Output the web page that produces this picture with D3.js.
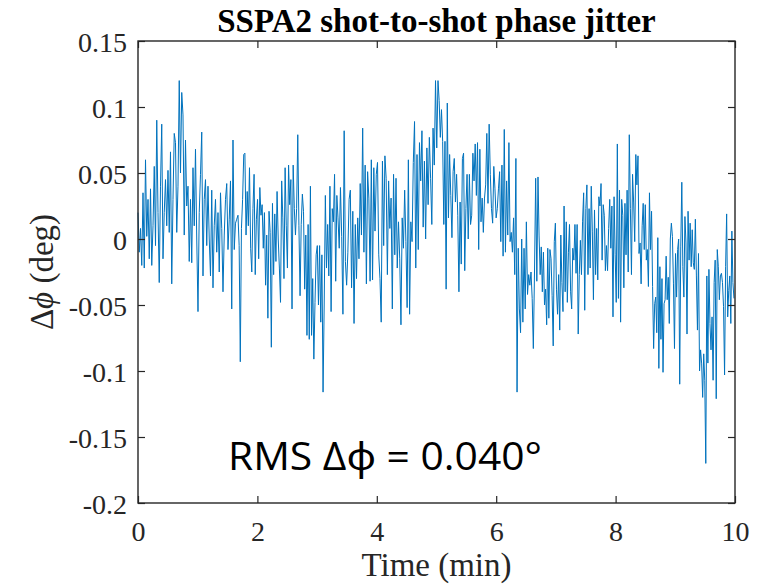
<!DOCTYPE html>
<html>
<head>
<meta charset="utf-8">
<script src="https://cdn.jsdelivr.net/npm/d3@7"></script>
<style>
body { margin: 0; background: #fff; }
</style>
</head>
<body>
<svg id="chart" width="766" height="584"></svg>
<script>
// shot-to-shot phase deviation (deg) in six time blocks
var seg0 = [.020, -.010, .008, -.020, .035, -.022, .060, .002, .030, -.015,
    .038, -.020, .010, .055, -.005, .090, .020, -.033, .040, .087,
    -.015, .020, .045, .010, .052, .005, .066, -.034, .030, .080,
    .073, .005, .040, .120, .050, .111, .094, .003, .075, .025,
    .040, -.017, .030, -.018, .054, .010, .068, .000, -.055, .020,
    .049, .081, -.028, .030, .045, -.005, .040, .000, -.028, .037,
    -.037, .010, .030, -.010, .020, -.025, .035, .008, -.040, .003,
    .030, .042, -.008, .015, .044, -.053, .075, -.008, .012, .015];
var seg1 = [.018, -.005, -.093, .008, .030, .064, .065, .003, .036, .010,
    .054, -.007, -.025, .023, .049, -.027, .015, .030, -.015, .039,
    .018, .026, -.007, .020, -.035, .003, -.060, .021, .005, -.082,
    .027, -.027, .019, -.017, .036, .000, -.022, -.048, .044, .016,
    -.030, .054, .010, -.022, .056, .026, .045, -.053, .056, .023,
    .003, .023, .079, .010, -.043, .011, .034, .021, -.038, .003,
    -.073, .011, -.076, .040, -.073, -.030, -.091, -.048, -.012, -.005,
    -.050, -.005, -.063, -.012, -.116, -.050, .033, -.022, .011, -.028,
    .040, -.055, .023, .013, .049, -.032, .033];
var seg2 = [.016, -.007, .039, .002, -.057, .082, -.017, -.035, -.010, .030,
    .037, -.037, .021, -.064, .011, -.030, .016, -.015, .042, .003,
    .084, -.010, .056, -.034, .051, .031, -.032, .060, -.031, .054,
    .006, .049, .058, -.012, -.030, -.063, .059, -.005, .063, .046,
    -.027, .044, .008, .031, -.053, .049, -.012, .046, -.022, .013,
    -.015, -.065, .016, -.007, .037, -.002, -.052, .060, -.057, .013,
    -.002, .058, .089, -.022, .064, -.008, .073, .044, .082, .009,
    .059, .000, .069, .026, .077, .046, .011, .084, .056, .120, .069];
var seg3 = [.120, .105, .077, .098, .074, .011, .074, -.038, .103, .016,
    .064, .033, .001, .051, .061, .028, .049, .018, -.040, .028,
    -.019, .061, .065, -.024, .023, .049, .000, .049, .011, .018,
    .065, .044, .072, .033, .073, -.008, .068, .013, .031, .005,
    .031, .041, .080, .027, .087, .049, .023, .012, .055, .038,
    .016, .023, .038, .051, -.002, .056, -.013, .083, -.010, .044,
    .003, .073, -.002, .005, -.010, .016, -.027, .061, -.116, -.007,
    -.053, -.071, .000, -.063, -.007, -.053, .013, -.042, -.027, -.035,
    -.025, -.045, -.083, -.025, .046, -.032];
var seg4 = [.047, .003, -.027, -.006, -.040, -.010, -.050, -.038, -.065, -.007,
    -.060, -.008, -.015, -.043, -.081, -.002, .012, -.038, -.057, -.027,
    -.069, .003, -.033, -.055, .025, -.040, .013, -.048, -.010, .011,
    -.040, -.053, -.007, -.016, .011, -.026, .011, -.072, -.027, -.001,
    -.027, .013, .035, -.054, .023, .041, -.027, .023, -.022, .040,
    .006, -.046, .022, -.027, .008, -.031, .032, .025, .042, -.016,
    .026, .018, -.024, -.005, -.024, .008, .030, -.007, .025, -.059,
    .032, -.012, -.048, .072, -.045, .037, -.063, .030, .018, -.037,
    .027, -.012, .037, -.025, .079, .023, -.027, .049, .028, -.002,
    .064, .041];
var seg5 = [.063, -.011, -.003, -.034, .010, .027, -.008, .026, -.016, -.008,
    -.036, .035, -.008, .021, -.036, -.083, -.049, -.044, -.071, .001,
    -.098, -.021, -.076, -.030, -.101, -.049, -.046, -.013, -.046, -.029,
    -.064, .000, .012, .002, -.034, -.083, -.011, -.044, -.008, .000,
    -.110, -.006, .043, -.021, -.044, .017, -.003, -.072, .021, -.016,
    .012, -.021, .007, -.018, -.023, .015, -.028, -.069, -.011, -.100,
    -.084, -.094, -.120, -.087, -.107, -.170, -.028, -.094, -.023, -.064,
    -.084, -.059, -.107, -.033, -.016, -.121, -.008, -.021, -.046, -.028,
    -.026, -.033, -.051, -.103, -.021, .019, -.059, -.039, -.028, -.064,
    .006, -.033, -.045];
var segments = [seg0, seg1, seg2, seg3, seg4, seg5];
var segStart = [0, 1.675, 3.35, 5.025, 6.7, 8.375];   // min
var segEnd = [1.675, 3.35, 5.025, 6.7, 8.375, 10];

var xTicks = [0, 2, 4, 6, 8, 10];
var yTicks = [0.15, 0.1, 0.05, 0, -0.05, -0.1, -0.15, -0.2];

var titleText = "SSPA2 shot-to-shot phase jitter";
var xLabel = "Time (min)";
var rmsText = "RMS \u0394\u03d5 = 0.040\u00b0";

var svg = d3.select("#chart"),
    margin = {top: 41, right: 31, bottom: 81, left: 138},
    width = +svg.attr("width") - margin.left - margin.right,
    height = +svg.attr("height") - margin.top - margin.bottom,
    g = svg.append("g").attr("transform", "translate(" + margin.left + "," + margin.top + ")");

var axisColor = "#262626",
    serif = "'Liberation Serif', 'Times New Roman', serif";

var x = d3.scaleLinear().domain([0, 10]).range([0, width]);
var y = d3.scaleLinear().domain([-0.2, 0.15]).range([height, 0]);

// flatten blocks into (t, v) points
var points = [];
segments.forEach(function(s, k) {
    var step = (segEnd[k] - segStart[k]) / s.length;
    s.forEach(function(v, j) {
        points.push({t: segStart[k] + j * step, v: v});
    });
});

var line = d3.line()
    .x(function(d) { return x(d.t); })
    .y(function(d) { return y(d.v); });

g.append("path")
    .datum(points)
    .attr("fill", "none")
    .attr("stroke", "#0072BD")
    .attr("stroke-width", 1)
    .attr("stroke-linejoin", "round")
    .attr("d", line);

// axes, ticks pointing inward on all four sides
function styleAxis(sel) {
    sel.select(".domain").remove();
    sel.selectAll(".tick line").attr("stroke", axisColor).attr("stroke-width", 1.2);
    sel.selectAll(".tick text").attr("fill", axisColor);
    sel.attr("font-family", serif).attr("font-size", 28);
}

g.append("g")
    .attr("transform", "translate(0," + height + ")")
    .call(d3.axisBottom(x).tickValues(xTicks).tickSizeInner(-7).tickSizeOuter(0).tickPadding(18)
        .tickFormat(function(d) { return String(d); }))
    .call(styleAxis);

g.append("g")
    .call(d3.axisLeft(y).tickValues(yTicks).tickSizeInner(-7).tickSizeOuter(0).tickPadding(11)
        .tickFormat(function(d) { return String(d); }))
    .call(styleAxis)
    .selectAll(".tick text").attr("dy", "0.39em");

g.append("g")
    .call(d3.axisTop(x).tickValues(xTicks).tickSizeInner(-7).tickSizeOuter(0).tickFormat(""))
    .call(styleAxis);

g.append("g")
    .attr("transform", "translate(" + width + ",0)")
    .call(d3.axisRight(y).tickValues(yTicks).tickSizeInner(-7).tickSizeOuter(0).tickFormat(""))
    .call(styleAxis);

g.append("rect")
    .attr("width", width)
    .attr("height", height)
    .attr("fill", "none")
    .attr("stroke", axisColor)
    .attr("stroke-width", 1.4);

// title and labels
svg.append("text")
    .attr("x", margin.left + width / 2)
    .attr("y", 32)
    .attr("text-anchor", "middle")
    .attr("font-family", serif)
    .attr("font-weight", "bold")
    .attr("font-size", 33)
    .attr("fill", "#000")
    .text(titleText);

svg.append("text")
    .attr("x", margin.left + width / 2)
    .attr("y", 576)
    .attr("text-anchor", "middle")
    .attr("font-family", serif)
    .attr("font-size", 33)
    .attr("fill", axisColor)
    .text(xLabel);

var yl = svg.append("text")
    .attr("transform", "translate(53," + (margin.top + height / 2) + ") rotate(-90)")
    .attr("text-anchor", "middle")
    .attr("font-family", serif)
    .attr("font-size", 33)
    .attr("fill", axisColor);
yl.append("tspan").text("\u0394");
yl.append("tspan").attr("font-style", "italic").text("\u03d5");
yl.append("tspan").text(" (deg)");

svg.append("text")
    .attr("x", 228)
    .attr("y", 470)
    .attr("font-family", "'Open Sans', 'Noto Sans', sans-serif")
    .attr("font-size", 38)
    .attr("textLength", 314)
    .attr("lengthAdjust", "spacingAndGlyphs")
    .attr("fill", "#000")
    .text(rmsText);
</script>
</body>
</html>
